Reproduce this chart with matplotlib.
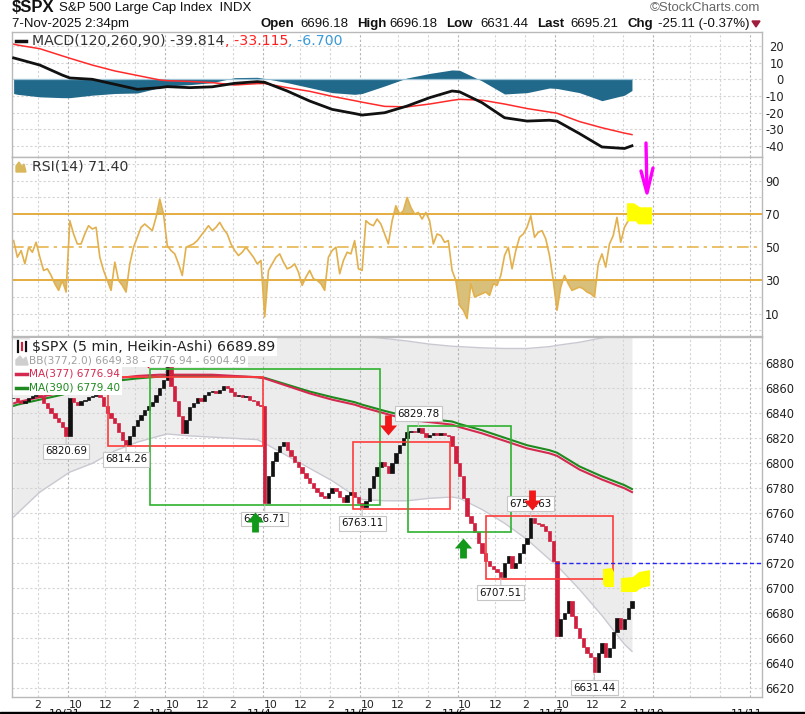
import numpy as np
import matplotlib
matplotlib.use("Agg")
import matplotlib.pyplot as plt
from matplotlib.path import Path
from matplotlib.patches import Polygon, Rectangle
from matplotlib.lines import Line2D
from matplotlib.transforms import blended_transform_factory

plt.rcParams["axes.unicode_minus"] = False
plt.rcParams["font.family"] = ["DejaVu Sans"]

# ------------------------------------------------------------------ data
session_labels = ["10/30", "10/31", "11/3", "11/4", "11/5", "11/6", "11/7", "11/10", "11/11"]
session_first_slot = [11, 0, 0, 0, 0, 0, 0]          # first 15-min slot shown per session

# Heikin-Ashi closes, 15-minute steps (slot 0 = 9:30)
price_1030 = [6852, 6850, 6848, 6850, 6852, 6854, 6855, 6853, 6848, 6844, 6840, 6836, 6833, 6829, 6822]
price_1031 = [6852, 6849, 6847, 6850, 6851, 6853, 6854, 6855, 6853, 6846, 6840, 6836, 6832, 6825, 6819,
              6815, 6822, 6830, 6835, 6839, 6843, 6846, 6849, 6855, 6860, 6867]
price_1103 = [6877, 6862, 6850, 6838, 6824, 6835, 6845, 6848, 6852, 6850, 6855, 6857, 6858, 6856, 6859,
              6862, 6860, 6857, 6854, 6855, 6853, 6854, 6851, 6850, 6847, 6846]
price_1104 = [6768, 6790, 6802, 6809, 6814, 6817, 6811, 6806, 6801, 6797, 6792, 6788, 6784, 6780, 6777,
              6774, 6772, 6776, 6780, 6778, 6773, 6769, 6775, 6777, 6773, 6768]
price_1105 = [6765, 6770, 6780, 6790, 6797, 6801, 6798, 6792, 6800, 6808, 6815, 6820, 6825, 6826, 6825,
              6828, 6824, 6821, 6823, 6824, 6823, 6824, 6823, 6822, 6814, 6800]
price_1106 = [6790, 6772, 6758, 6752, 6745, 6736, 6728, 6722, 6718, 6715, 6713, 6709, 6720, 6726, 6716,
              6720, 6728, 6735, 6740, 6756, 6752, 6751, 6750, 6746, 6738, 6722]
price_1107 = [6662, 6675, 6680, 6690, 6678, 6668, 6660, 6653, 6648, 6645, 6633, 6648, 6656, 6645, 6652,
              6665, 6676, 6667, 6675, 6684, 6690]

rsi_1030 = [54, 44, 48, 40, 50, 47, 53, 44, 36, 37, 33, 28, 24, 30, 23]
rsi_1031 = [66, 58, 52, 52, 58, 63, 61, 62, 44, 36, 30, 24, 41, 30, 27, 23, 40, 50, 56, 62, 64, 62, 60, 68, 79, 70]
rsi_1103 = [51, 48, 46, 40, 33, 50, 51, 52, 54, 57, 60, 63, 60, 62, 65, 61, 58, 52, 48, 45, 47, 50, 47, 44, 40, 42]
rsi_1104 = [8, 36, 40, 44, 46, 41, 37, 38, 40, 35, 27, 32, 36, 31, 30, 28, 24, 44, 48, 50, 34, 42, 47, 46, 54, 37]
rsi_1105 = [36, 66, 64, 63, 67, 64, 58, 52, 66, 75, 70, 72, 80, 74, 70, 71, 67, 71, 66, 52, 58, 57, 53, 54, 36, 30]
rsi_1106 = [15, 12, 7, 28, 20, 21, 22, 23, 21, 28, 27, 33, 45, 50, 37, 48, 56, 58, 62, 69, 56, 59, 60, 55, 45, 30]
rsi_1107 = [12, 26, 33, 28, 24, 25, 26, 25, 23, 22, 20, 40, 46, 38, 52, 57, 68, 53, 62, 66, 71.4]

# smoother indicators sampled every 90 minutes
sample_day = [0, 0, 0, 0] + [1] * 5 + [2] * 5 + [3] * 5 + [4] * 5 + [5] * 5 + [6] * 5
sample_slot = [11, 12, 18, 24] + [0, 6, 12, 18, 24] * 5 + [0, 6, 12, 18, 20]
macd_line = [12.8, 12.2, 8.5, 2.5,
             0.8, 0.0, -3.0, -6.0, -5.0,
             -4.4, -5.0, -4.5, -2.4, -1.4,
             -1.8, -7.0, -13.0, -18.0, -20.5,
             -21.4, -20.0, -16.0, -11.0, -7.0,
             -7.5, -14.0, -23.0, -25.0, -24.5,
             -25.0, -32.5, -40.5, -41.4, -39.8]
macd_signal = [21.0, 20.5, 18.3, 14.0,
               12.6, 8.5, 5.0, 2.3, -0.4,
               -0.8, -1.3, -2.0, -3.4, -2.6,
               -2.5, -5.0, -7.2, -10.2, -12.8,
               -13.7, -16.2, -16.5, -14.8, -12.6,
               -12.0, -12.5, -14.8, -17.5, -19.6,
               -20.3, -25.3, -29.0, -32.2, -33.1]
macd_hist = [-8.5, -9.0, -10.5, -11.0,
             -11.0, -9.5, -8.5, -8.2, -5.0,
             -4.0, -3.2, -2.0, 1.0, 1.2,
             0.5, -2.0, -5.0, -8.0, -9.0,
             -8.5, -4.0, 0.8, 3.5, 5.6,
             5.4, -1.0, -8.8, -8.0, -5.2,
             -5.5, -8.0, -12.8, -9.5, -6.7]
ma377 = [6848, 6849, 6853, 6857,
         6859, 6864, 6868, 6870, 6871,
         6871, 6871, 6871, 6870, 6869,
         6868, 6862, 6856, 6851, 6847,
         6845, 6840, 6835, 6833, 6831,
         6829, 6824, 6818, 6812, 6808,
         6806, 6795, 6787, 6780, 6776.94]
ma390 = [6846, 6847, 6851, 6855,
         6857, 6862, 6866, 6868, 6869.5,
         6870, 6870, 6870, 6869.5, 6869,
         6868.5, 6863, 6857.5, 6853, 6849,
         6847, 6842, 6837.5, 6835.5, 6833.5,
         6831.5, 6826.5, 6820.5, 6814.5, 6810.5,
         6808.5, 6797.5, 6789.5, 6782.5, 6779.40]
bb_upper = [6925, 6926, 6930, 6932,
            6932, 6931, 6929, 6927, 6925,
            6924, 6922, 6920, 6917, 6914,
            6913, 6910, 6907, 6905, 6903,
            6902, 6900, 6898, 6895.5, 6893.8,
            6893.5, 6892.5, 6892, 6892, 6893.5,
            6894.5, 6897, 6900.5, 6903.5, 6904.49]
bb_lower = [6757, 6760, 6777, 6789,
            6793, 6800, 6810, 6817, 6822,
            6823.5, 6822, 6821, 6820, 6819,
            6816, 6806, 6796, 6786, 6774,
            6771, 6770, 6770, 6772, 6773,
            6772, 6763, 6752, 6739, 6723,
            6718, 6699, 6678, 6655, 6649.38]

# labelled highs / lows
extreme_day = [0, 1, 3, 4, 4, 5, 5, 6]
extreme_slot = [25, 15, 0, 0, 15, 11, 19, 10]
extreme_value = [6820.69, 6814.26, 6766.71, 6763.11, 6829.78, 6707.51, 6757.63, 6631.44]
extreme_is_high = [False, False, False, False, True, False, True, False]

# drawn range boxes
range_start = [(1, "12:10"), (1, "15:00"), (3, "15:31"), (4, "12:41"), (5, "11:23")]
range_end = [(3, "09:30"), (4, "10:49"), (4, "15:29"), (5, "13:03"), (6, "13:22")]
range_top = [6869.0, 6875.6, 6817.3, 6829.78, 6757.63]
range_bottom = [6814.26, 6766.71, 6763.11, 6745.2, 6707.51]
range_color = ["#ff3b3b", "#2fb22f", "#ff3b3b", "#2fb22f", "#ff3b3b"]

sell_signals = [(1, "14:50", 6876.4), (4, "11:21", 6822.7), (5, "14:27", 6762.6)]
buy_signals = [(2, "15:28", 6761.0), (5, "09:51", 6740.2)]

level_value = 6720.0
level_from = (6, "09:30")

# ------------------------------------------------------------------ helpers
BARS_PER_DAY = 78


def pos(day, slot):
    return day * BARS_PER_DAY + slot * 3 + 1.5


def tpos(day, hhmm):
    h, m = map(int, hhmm.split(":"))
    return day * BARS_PER_DAY + ((h * 60 + m) - 570) / 5.0


price_days = [price_1030, price_1031, price_1103, price_1104, price_1105, price_1106, price_1107]
rsi_days = [rsi_1030, rsi_1031, rsi_1103, rsi_1104, rsi_1105, rsi_1106, rsi_1107]
xs, closes, rsis = [], [], []
for d, (pv, rv, s0) in enumerate(zip(price_days, rsi_days, session_first_slot)):
    for k, (p, r) in enumerate(zip(pv, rv)):
        xs.append(pos(d, s0 + k))
        closes.append(p)
        rsis.append(r)
xs = np.array(xs, float)
closes = np.array(closes, float)
rsis = np.array(rsis, float)
opens = np.concatenate([[closes[0]], closes[:-1]])

x_ind = np.array([pos(d, s) for d, s in zip(sample_day, sample_slot)], float)

W, H = 805, 714
X_LEFT, X_RIGHT = 33.2, 633.6

fig = plt.figure(figsize=(W / 100, H / 100), dpi=100)


def rect(top, bottom):
    return [12 / W, 1 - bottom / H, 750 / W, (bottom - top) / H]


ax_m = fig.add_axes(rect(32, 157))
ax_r = fig.add_axes(rect(157, 336), sharex=ax_m)
ax_p = fig.add_axes(rect(337, 697), sharex=ax_m)

GRID = "#d4d4d4"
GRID_DAY = "#b4b4b4"
DOT = (0, (2, 2))

for ax in (ax_m, ax_r, ax_p):
    ax.set_xlim(X_LEFT, X_RIGHT)
    for sp in ax.spines.values():
        sp.set_color("#b9b9b9")
        sp.set_linewidth(1.0)
    ax.yaxis.tick_right()
    ax.tick_params(axis="both", length=0, colors="#222222")
    for d in range(len(session_labels)):
        ax.axvline(d * BARS_PER_DAY, color=GRID_DAY, lw=0.8, ls=DOT, zorder=0.6)
        ax.axvline(d * BARS_PER_DAY + 30, color=GRID, lw=0.8, ls=DOT, zorder=0.6)
        ax.axvline(d * BARS_PER_DAY + 54, color=GRID, lw=0.8, ls=DOT, zorder=0.6)

# x ticks
xt, xl = [], []
for d in range(7):
    for hh, lab in (("10:00", "10"), ("12:00", "12"), ("14:00", "2")):
        t = tpos(d, hh)
        if X_LEFT < t < X_RIGHT:
            xt.append(t)
            xl.append(lab)
ax_p.set_xticks(xt)
ax_p.set_xticklabels(xl, fontsize=7.8)
ax_p.tick_params(axis="x", pad=2)
ax_m.tick_params(axis="x", labelbottom=False)
ax_r.tick_params(axis="x", labelbottom=False)
ax_p.set_xlim(X_LEFT, X_RIGHT)

# ------------------------------------------------------------------ MACD
ax_m.set_ylim(-46.5, 28.3)
mt = [20, 10, 0, -10, -20, -30, -40]
ax_m.set_yticks(mt)
ax_m.set_yticklabels([str(v) for v in mt], fontsize=8.3)
ax_m.tick_params(axis="y", pad=15.8)
for lbl in ax_m.get_yticklabels():
    lbl.set_horizontalalignment("right")
for v in range(-40, 30, 10):
    ax_m.axhline(v, color=GRID, lw=0.8, ls=DOT, zorder=0.6)
ax_m.fill_between(x_ind, 0, macd_hist, color="#21698b", lw=0, zorder=1)
ax_m.plot([x_ind[0], x_ind[-1]], [0, 0], color="#9cc3d6", lw=0.9, zorder=1.2)
ax_m.plot(x_ind, macd_signal, color="#ff2a2a", lw=1.1, zorder=2)
ax_m.plot(x_ind, macd_line, color="#111111", lw=2.0, zorder=3)

# ------------------------------------------------------------------ RSI
ax_r.set_ylim(-3.5, 104.4)
rt = [90, 70, 50, 30, 10]
ax_r.set_yticks(rt)
ax_r.set_yticklabels([str(v) for v in rt], fontsize=8.3)
ax_r.tick_params(axis="y", pad=2.2)
for v in range(0, 101, 10):
    if v not in (30, 50, 70):
        ax_r.axhline(v, color=GRID, lw=0.8, ls=DOT, zorder=0.6)
RSI_LINE = "#e2b04c"
RSI_FILL = "#d9c07a"
ax_r.fill_between(xs, 70, rsis, where=rsis > 70, interpolate=True, color=RSI_FILL, lw=0, zorder=1)
ax_r.fill_between(xs, 30, rsis, where=rsis < 30, interpolate=True, color=RSI_FILL, lw=0, zorder=1)
ax_r.axhline(70, color="#e0a020", lw=1.2, zorder=1.5)
ax_r.axhline(30, color="#e0a020", lw=1.2, zorder=1.5)
ax_r.axhline(50, color="#e6b650", lw=1.2, ls=(0, (7, 3, 2, 3)), zorder=1.5)
ax_r.plot(xs, rsis, color=RSI_LINE, lw=1.2, zorder=2)

# ------------------------------------------------------------------ price
ax_p.set_ylim(6612.8, 6901.2)
pt = list(range(6620, 6881, 20))
ax_p.set_yticks(pt)
ax_p.set_yticklabels([str(v) for v in pt], fontsize=8.3)
ax_p.tick_params(axis="y", pad=2.2)
for v in pt:
    ax_p.axhline(v, color=GRID, lw=0.8, ls=DOT, zorder=0.6)

ax_p.fill_between(x_ind, bb_lower, bb_upper, color="#ececec", lw=0, zorder=0.4)
ax_p.plot(x_ind, bb_upper, color="#c9c9d2", lw=1.0, zorder=1)
ax_p.plot(x_ind, bb_lower, color="#c9c9d2", lw=1.0, zorder=1)
ax_p.plot(x_ind, ma390, color="#1f8a1f", lw=1.5, zorder=2)
ax_p.plot(x_ind, ma377, color="#d42a50", lw=1.5, zorder=2.1)

up = closes >= opens
UPC, DNC = "#111111", "#d0203f"
cols = np.where(up, UPC, DNC)
ax_p.bar(xs, closes - opens, bottom=opens, width=2.7, color=cols, edgecolor=cols,
         linewidth=0.5, zorder=3)

for (d0, t0), (d1, t1), top, bot, c in zip(range_start, range_end, range_top, range_bottom, range_color):
    x0, x1 = tpos(d0, t0), tpos(d1, t1)
    ax_p.add_patch(Rectangle((x0, bot), x1 - x0, top - bot, fill=False, edgecolor=c, lw=1.2, zorder=4))

for d, s, v, hi in zip(extreme_day, extreme_slot, extreme_value, extreme_is_high):
    off = 9.0 if hi else -10.0
    ax_p.annotate(f"{v:.2f}", xy=(pos(d, s), v), xytext=(0, off), textcoords="offset points",
                  ha="center", va="center", fontsize=7.4, color="#111111",
                  bbox=dict(boxstyle="square,pad=0.22", fc="white", ec="#c6c6c6", lw=0.8),
                  arrowprops=dict(arrowstyle="-", color="#c6c6c6", lw=0.8, shrinkA=0, shrinkB=0),
                  zorder=6)

down_arrow = Path([(0, 0), (0.43, 0.5), (0.17, 0.5), (0.17, 1), (-0.17, 1), (-0.17, 0.5),
                   (-0.43, 0.5), (0, 0)], closed=True)
up_arrow = Path([(0, 0), (0.43, -0.5), (0.17, -0.5), (0.17, -1), (-0.17, -1), (-0.17, -0.5),
                 (-0.43, -0.5), (0, 0)], closed=True)
for d, t, v in sell_signals:
    ax_p.plot([tpos(d, t)], [v], marker=down_arrow, ms=28.8, color="#f01818", mew=0, zorder=7)
for d, t, v in buy_signals:
    ax_p.plot([tpos(d, t)], [v], marker=up_arrow, ms=28.8, color="#12981a", mew=0, zorder=7)

ax_p.plot([tpos(*level_from), X_RIGHT], [level_value, level_value], color="#2424f0", lw=1.0,
          ls=(0, (3, 2)), zorder=4)

# highlighter marks
blob1 = [(506.3, 6715.3), (513.5, 6716.1), (515.1, 6712.9), (515.1, 6700.9), (507.9, 6700.9), (506.3, 6703.3)]
blob2 = [(520.7, 6708.1), (530.3, 6708.9), (535.2, 6712.9), (544.0, 6714.5), (544.0, 6701.7),
         (536.8, 6700.1), (532.8, 6696.9), (520.7, 6696.9)]
rsi_blob = [(525.5, 76.5), (531.2, 76.5), (536.0, 74.1), (545.6, 74.1), (545.6, 63.8), (534.4, 63.8),
            (532.8, 65.6), (525.5, 65.6)]
for b in (blob1, blob2):
    ax_p.add_patch(Polygon(b, closed=True, color="#ffff00", lw=0, zorder=8))
ax_r.add_patch(Polygon(rsi_blob, closed=True, color="#ffff00", lw=0, zorder=8))

# ------------------------------------------------------------------ texts / legends
renderer = fig.canvas.get_renderer()


def ftext(px, py, s, **kw):
    kw.setdefault("va", "center")
    return fig.text(px / W, 1 - py / H, s, parse_math=False, **kw)


def fline(xpx, ypx, **kw):
    fig.add_artist(Line2D([x / W for x in xpx], [1 - y / H for y in ypx], **kw))


def chain(px, py, parts, **kw):
    x = px
    for s, c, wt in parts:
        t = ftext(x, py, s, color=c, fontweight=wt, **kw)
        x = t.get_window_extent(renderer).x1
    return x


LIB = "Liberation Sans"
ftext(12, 8, "$SPX", fontsize=12, fontweight="bold", family=LIB, color="#111111")
ftext(59, 8, "S&P 500 Large Cap Index  INDX", fontsize=9.5, family=LIB, color="#111111")
ftext(650, 8, "\u00a9StockCharts.com", fontsize=9.5, family=LIB, color="#666666")
ftext(12, 24, "7-Nov-2025 2:34pm", fontsize=9.5, family=LIB, color="#111111")
hdr = [("Open", 260, "bold"), ("6696.18", 300, "normal"), ("High", 357, "bold"), ("6696.18", 389, "normal"),
       ("Low", 446, "bold"), ("6631.44", 480, "normal"), ("Last", 537, "bold"), ("6695.21", 570, "normal"),
       ("Chg", 627, "bold"), ("-25.11 (-0.37%)", 658, "normal")]
for s, px, wt in hdr:
    ftext(px, 24, s, fontsize=9.5, family=LIB, fontweight=wt, color="#111111")
fig.add_artist(Polygon([(752 / W, 1 - 21 / H), (760 / W, 1 - 21 / H), (756 / W, 1 - 27 / H)],
                       closed=True, color="#a01c3c", transform=fig.transFigure))

# MACD legend
fline([16, 26], [41, 41], color="#111111", lw=2.5)
chain(32, 41, [("MACD(120,260,90) -39.814", "#333333", "normal"), (", -33.115", "#ff2020", "normal"),
               (", -6.700", "#3a9ad9", "normal")], fontsize=10.2)

# RSI legend
fig.add_artist(Polygon([(16 / W, 1 - 172 / H), (16 / W, 1 - 166 / H), (19 / W, 1 - 162 / H),
                        (22 / W, 1 - 167 / H), (24 / W, 1 - 164 / H), (26 / W, 1 - 172 / H)],
                       closed=True, color="#d9b85c", transform=fig.transFigure))
ftext(32, 167, "RSI(14) 71.40", fontsize=10.2, color="#333333")

# price legend
WB = dict(facecolor="white", edgecolor="none", pad=1.2)
fig.add_artist(Rectangle((13 / W, 1 - 394 / H), 18 / W, 54 / H, color="white", transform=fig.transFigure,
                         zorder=9))
ftext(32, 347, "$SPX (5 min, Heikin-Ashi) 6689.89", fontsize=10.2, color="#222222", bbox=WB, zorder=10)
ftext(29, 360.5, "BB(377,2.0) 6649.38 - 6776.94 - 6904.49", fontsize=7.6, color="#a0a0a0", bbox=WB, zorder=10)
ftext(29, 374, "MA(377) 6776.94", fontsize=7.6, color="#d42a50", bbox=WB, zorder=10)
ftext(29, 388, "MA(390) 6779.40", fontsize=7.6, color="#1f8a1f", bbox=WB, zorder=10)
fline([18, 18], [341, 352], color="#111111", lw=1.6, zorder=11)
fline([22, 22], [343, 350], color="#d0203f", lw=1.6, zorder=11)
fline([26, 26], [342, 351], color="#111111", lw=1.6, zorder=11)
fig.add_artist(Polygon([(16 / W, 1 - 365 / H), (16 / W, 1 - 360 / H), (20 / W, 1 - 356 / H),
                        (23 / W, 1 - 360 / H), (26 / W, 1 - 357 / H), (28 / W, 1 - 365 / H)],
                       closed=True, color="#cfcfcf", transform=fig.transFigure, zorder=11))
fline([16, 27], [374, 374], color="#d42a50", lw=2.5, zorder=11)
fline([16, 27], [388, 388], color="#1f8a1f", lw=2.5, zorder=11)

# magenta pointer
fline([646, 647], [143, 191], color="#ff00ff", lw=2.4, solid_capstyle="round", zorder=12)
fline([641, 647, 653], [171, 193, 168], color="#ff00ff", lw=2.4, solid_capstyle="round",
      solid_joinstyle="round", zorder=12)

# day labels (cut by the bottom edge, as in the original screenshot)
btr = blended_transform_factory(ax_p.transData, fig.transFigure)
for d, lab in enumerate(session_labels):
    if d == 0:
        continue
    ax_p.text(d * BARS_PER_DAY - 3, 1 - 709 / H, lab, transform=btr, ha="center", va="top",
              fontsize=8, color="#111111", clip_on=False)

fig.add_artist(Rectangle((0, 0), 1, 2 / H, color="black", transform=fig.transFigure, zorder=20))

fig.savefig("out.png", dpi=100, facecolor="white")
